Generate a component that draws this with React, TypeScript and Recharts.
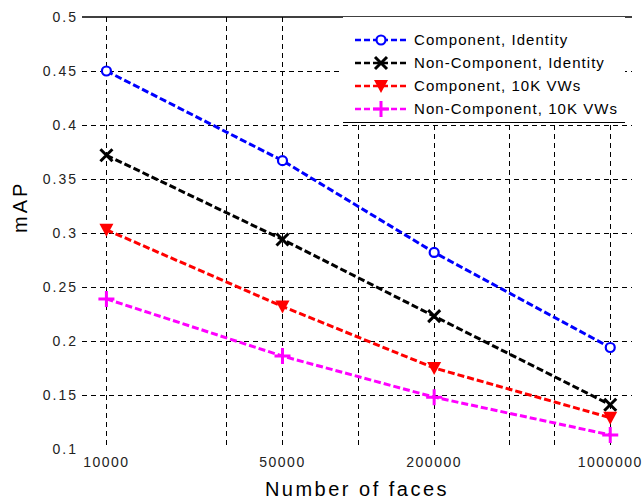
import React from "react";
import {
  CartesianGrid,
  Legend,
  Line,
  LineChart,
  ReferenceLine,
  XAxis,
  YAxis,
} from "recharts";

// number of faces in the database
const faces = [10000, 50000, 200000, 1000000];

// mAP for each setting
const compIdentity = [0.45, 0.367, 0.282, 0.194];
const nonCompIdentity = [0.372, 0.294, 0.223, 0.141];
const comp10k = [0.303, 0.232, 0.175, 0.129];
const nonComp10k = [0.239, 0.186, 0.148, 0.113];

const xGridTicks = [10000, 30000, 40000, 50000, 100000, 200000, 400000, 600000, 1000000];
const xLabelTicks = [10000, 50000, 200000, 1000000];
const yTicks = [0.1, 0.15, 0.2, 0.25, 0.3, 0.35, 0.4, 0.45, 0.5];
const yGridValues = [0.15, 0.2, 0.25, 0.3, 0.35, 0.4, 0.45];

const FONT = "'Liberation Sans', Arial, Helvetica, sans-serif";

const chartData = faces.map((n, i) => ({
  faces: n,
  compIdentity: compIdentity[i],
  nonCompIdentity: nonCompIdentity[i],
  comp10k: comp10k[i],
  nonComp10k: nonComp10k[i],
}));

const CircleDot = ({ cx, cy, color }: any) => (
  <circle cx={cx} cy={cy} r={4.5} fill="#fff" stroke={color} strokeWidth={2.2} />
);

const CrossDot = ({ cx, cy, color }: any) => (
  <path
    d={`M${cx - 6},${cy - 6}L${cx + 6},${cy + 6}M${cx - 6},${cy + 6}L${cx + 6},${cy - 6}`}
    stroke={color}
    strokeWidth={3}
  />
);

const TriangleDot = ({ cx, cy, color }: any) => (
  <path d={`M${cx - 7},${cy - 6}L${cx + 7},${cy - 6}L${cx},${cy + 7}Z`} fill={color} />
);

const PlusDot = ({ cx, cy, color }: any) => (
  <path
    d={`M${cx - 8},${cy}L${cx + 8},${cy}M${cx},${cy - 8}L${cx},${cy + 8}`}
    stroke={color}
    strokeWidth={3}
  />
);

const SERIES = [
  { key: "compIdentity", name: "Component, Identity", color: "#0000ff", Dot: CircleDot },
  { key: "nonCompIdentity", name: "Non-Component, Identity", color: "#000000", Dot: CrossDot },
  { key: "comp10k", name: "Component, 10K VWs", color: "#ff0000", Dot: TriangleDot },
  { key: "nonComp10k", name: "Non-Component, 10K VWs", color: "#ff00ff", Dot: PlusDot },
];

const renderLegend = () => (
  <svg width={282} height={106} style={{ display: "block", overflow: "visible" }}>
    <rect x={0} y={0} width={282} height={106} fill="#fff" />
    <line x1={0} y1={105.5} x2={282} y2={105.5} stroke="#000" strokeWidth={1} />
    {SERIES.map((s, i) => {
      const y = 23 + i * 23;
      const Dot = s.Dot;
      return (
        <g key={s.key}>
          <line
            x1={12}
            y1={y}
            x2={65}
            y2={y}
            stroke={s.color}
            strokeWidth={2.5}
            strokeDasharray="6 3"
          />
          <Dot cx={38} cy={y} color={s.color} />
          <text
            x={71}
            y={y + 5}
            fontSize={15}
            fontFamily={FONT}
            fill="#000"
            letterSpacing={1.05}
          >
            {s.name}
          </text>
        </g>
      );
    })}
  </svg>
);

const App = () => {
  return (
    <div style={{ position: "absolute", left: 0, top: 0, background: "#fff" }}>
      <LineChart
        width={643}
        height={500}
        data={chartData}
        margin={{ top: 17, right: 11, bottom: 0, left: 0 }}
        style={{ fontFamily: FONT }}
      >
        <CartesianGrid
          stroke="#000"
          strokeDasharray="5 4"
          strokeWidth={1}
          shapeRendering="crispEdges"
          horizontalValues={yGridValues}
          verticalValues={xGridTicks}
        />
        <ReferenceLine y={0.5} stroke="#000" strokeWidth={1.5} />
        <XAxis
          dataKey="faces"
          type="number"
          scale="log"
          domain={[8000, 1220000]}
          allowDataOverflow
          ticks={xGridTicks}
          tickFormatter={(v: number) => (xLabelTicks.includes(v) ? String(v) : "")}
          axisLine={false}
          tickLine={false}
          height={51}
          tick={{ fill: "#222", fontSize: 14, fontFamily: FONT, letterSpacing: 1.5 }}
          label={{
            value: "Number of faces",
            position: "insideBottom",
            offset: 4,
            fill: "#000",
            fontSize: 20,
            fontFamily: FONT,
            letterSpacing: 2.5,
          }}
        />
        <YAxis
          type="number"
          domain={[0.1, 0.5]}
          ticks={yTicks}
          width={82}
          axisLine={false}
          tickLine={false}
          tickSize={2}
          tick={{ fill: "#222", fontSize: 14, fontFamily: FONT, letterSpacing: 2 }}
          label={{
            value: "mAP",
            angle: -90,
            position: "insideLeft",
            offset: 20,
            fill: "#000",
            fontSize: 20,
            fontFamily: FONT,
            letterSpacing: 3,
          }}
        />
        {SERIES.map((s) => {
          const Dot = s.Dot;
          return (
            <Line
              key={s.key}
              dataKey={s.key}
              name={s.name}
              stroke={s.color}
              strokeWidth={3}
              strokeDasharray="7 3"
              isAnimationActive={false}
              dot={(p: any) => <Dot key={`${s.key}-${p.index}`} cx={p.cx} cy={p.cy} color={s.color} />}
              activeDot={false}
            />
          );
        })}
        <Legend
          layout="horizontal"
          verticalAlign="middle"
          align="center"
          content={renderLegend}
          wrapperStyle={{ position: "absolute", left: 343, top: 17, width: 282, height: 106 }}
        />
      </LineChart>
    </div>
  );
};

export default App;
